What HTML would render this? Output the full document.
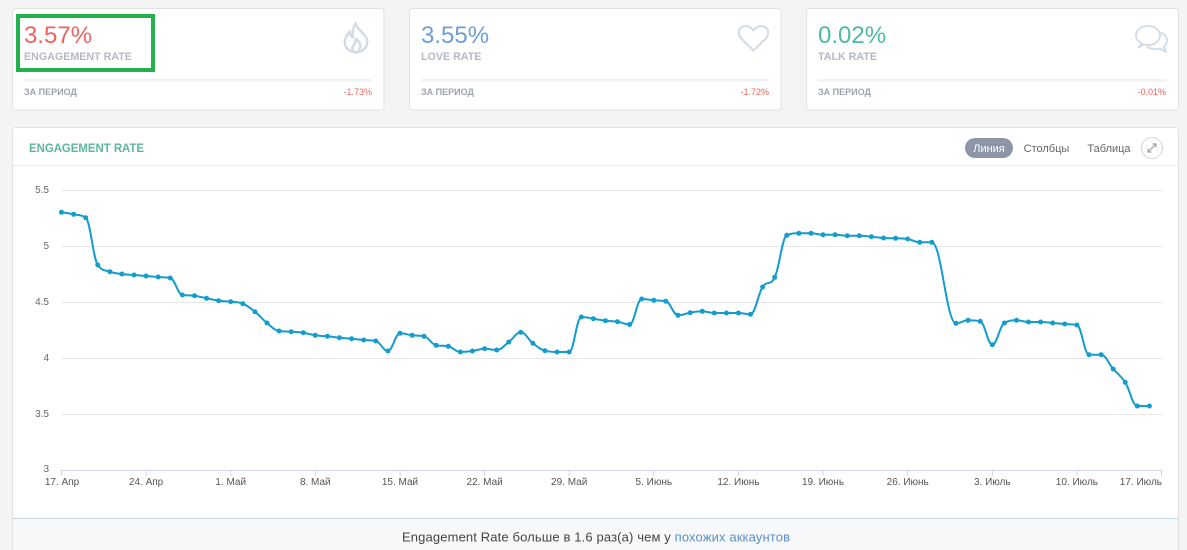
<!DOCTYPE html>
<html><head><meta charset="utf-8">
<style>
html,body{margin:0;padding:0;background:#f4f4f4;}
body{width:1187px;height:550px;overflow:hidden;font-family:"Liberation Sans","DejaVu Sans",sans-serif;}
svg{position:absolute;left:0;top:0;display:block;}
svg text{font-family:"Liberation Sans","DejaVu Sans",sans-serif;}
</style></head>
<body>
<svg width="1187" height="550" viewBox="0 0 1187 550" xmlns="http://www.w3.org/2000/svg">
  <rect x="0" y="0" width="1187" height="550" fill="#f4f4f4"/>
  <!-- Top cards -->
  <rect x="12.5" y="8.5" width="371.5" height="101.5" rx="3" fill="#fff" stroke="#e1e1e1"/>
  <rect x="409.5" y="8.5" width="371.5" height="101.5" rx="3" fill="#fff" stroke="#e1e1e1"/>
  <rect x="806.5" y="8.5" width="372" height="101.5" rx="3" fill="#fff" stroke="#e1e1e1"/>

  <!-- card 1 -->
  <text x="24" y="43" font-size="24" fill="#f0625f">3.57%</text>
  <text x="24" y="60" font-size="10.7" font-weight="bold" fill="#b2bac4">ENGAGEMENT RATE</text>
  <rect x="24" y="79" width="348" height="2.5" fill="#f1f2f4"/>
  <text x="24" y="95" font-size="9" font-weight="bold" fill="#9ca4ae">ЗА ПЕРИОД</text>
  <text x="372" y="95" font-size="9" fill="#f0625f" text-anchor="end">-1.73%</text>
  <g transform="translate(342,22) scale(1.05)" fill="none" stroke="#d3dbe5" stroke-width="2.3" stroke-linejoin="round" stroke-linecap="round">
    <path d="M13 1 C14 7 21 10 23.5 16 C25.5 21.5 22 28.5 13 29 C5 28.5 1.5 22 3 16.5 C4 13 6 11 7 9 C7.5 12 9 14 10.5 14.5 C9.5 9.5 10.5 5 13 1 Z"/>
    <path d="M13 29 C9.5 28 9 24.5 11 22 C12.5 20 13.5 18.5 13 16 C16 18 18 21 17.5 24 C17 27 15 29 13 29"/>
  </g>
  <rect x="18" y="16" width="135" height="54" fill="none" stroke="#22b14c" stroke-width="4"/>

  <!-- card 2 -->
  <text x="421" y="43" font-size="24" fill="#6d9fd6">3.55%</text>
  <text x="421" y="60" font-size="10.7" font-weight="bold" fill="#b2bac4">LOVE RATE</text>
  <rect x="421" y="79" width="348" height="2.5" fill="#f1f2f4"/>
  <text x="421" y="95" font-size="9" font-weight="bold" fill="#9ca4ae">ЗА ПЕРИОД</text>
  <text x="769" y="95" font-size="9" fill="#f0625f" text-anchor="end">-1.72%</text>
  <g transform="translate(737,24)" fill="none" stroke="#d5dde6" stroke-width="2.2" stroke-linejoin="round">
    <path d="M16.5 26.5 L4.5 14.8 C1 11.2 1 5.8 4.5 3.3 C8 0.8 13 1.8 16.5 6.5 C20 1.8 25 0.8 28.5 3.3 C32 5.8 32 11.2 28.5 14.8 Z"/>
  </g>

  <!-- card 3 -->
  <text x="818" y="43" font-size="24" fill="#4dbba4">0.02%</text>
  <text x="818" y="60" font-size="10.7" font-weight="bold" fill="#b2bac4">TALK RATE</text>
  <rect x="818" y="79" width="348" height="2.5" fill="#f1f2f4"/>
  <text x="818" y="95" font-size="9" font-weight="bold" fill="#9ca4ae">ЗА ПЕРИОД</text>
  <text x="1166" y="95" font-size="9" fill="#f0625f" text-anchor="end">-0.01%</text>
  <g transform="translate(1135,25)" fill="none" stroke="#d5dde6" stroke-width="2" stroke-linejoin="round" stroke-linecap="round">
    <path d="M7 18.5 C3 16.5 1 13.5 1 10.5 C1 5 6.5 1 13 1 C19.5 1 25 5 25 10.5 C25 16 19.5 20 13 20 C11.5 20 10 19.8 8.8 19.4 L3.5 22.5 Z"/>
    <path d="M26.5 8 C30 9.5 32 12.5 32 15.5 C32 18 30.8 20 29 21.5 L31 27 L25 23.5 C23.5 24 22 24.2 20 24.2 C17 24.2 14.5 23.3 12.5 22"/>
  </g>

  <!-- chart card -->
  <rect x="12.5" y="127.5" width="1166" height="440" rx="3" fill="#fff" stroke="#e1e1e1"/>
  <line x1="13" y1="165.5" x2="1178" y2="165.5" stroke="#ebebeb"/>
  <text x="29" y="152" font-size="12" font-weight="bold" fill="#5db6a0" textLength="115" lengthAdjust="spacingAndGlyphs">ENGAGEMENT RATE</text>
  <rect x="965" y="138" width="48" height="20" rx="10" fill="#8c96a7"/>
  <text x="989" y="152" font-size="11" fill="#fff" text-anchor="middle">Линия</text>
  <text x="1046.5" y="152" font-size="11" fill="#666" text-anchor="middle">Столбцы</text>
  <text x="1109" y="152" font-size="11" fill="#666" text-anchor="middle">Таблица</text>
  <circle cx="1152" cy="148" r="10.5" fill="#fff" stroke="#d2d2d2"/>
  <g stroke="#a0a0a0" stroke-width="1.2" fill="none">
    <line x1="1148" y1="152" x2="1156" y2="144"/>
    <polyline points="1152.5,144 1156,144 1156,147.5"/>
    <polyline points="1148,148.5 1148,152 1151.5,152"/>
  </g>

  <!-- grid -->
  <g stroke="#e6e6e6" stroke-width="1">
    <line x1="61.5" y1="190.5" x2="1162" y2="190.5"/>
    <line x1="61.5" y1="246.5" x2="1162" y2="246.5"/>
    <line x1="61.5" y1="302.5" x2="1162" y2="302.5"/>
    <line x1="61.5" y1="358.5" x2="1162" y2="358.5"/>
    <line x1="61.5" y1="414.5" x2="1162" y2="414.5"/>
  </g>
  <g font-size="10" fill="#666" text-anchor="end">
    <text x="49" y="193">5.5</text>
    <text x="49" y="249">5</text>
    <text x="49" y="305">4.5</text>
    <text x="49" y="361">4</text>
    <text x="49" y="417">3.5</text>
    <text x="49" y="472">3</text>
  </g>
  <line x1="61.5" y1="470.5" x2="1162" y2="470.5" stroke="#ccd6eb"/>
  <g stroke="#ccd6eb">
    <line x1="61.5" y1="470" x2="61.5" y2="476"/>
    <line x1="146.1" y1="470" x2="146.1" y2="476"/>
    <line x1="230.7" y1="470" x2="230.7" y2="476"/>
    <line x1="315.3" y1="470" x2="315.3" y2="476"/>
    <line x1="400" y1="470" x2="400" y2="476"/>
    <line x1="484.6" y1="470" x2="484.6" y2="476"/>
    <line x1="569.2" y1="470" x2="569.2" y2="476"/>
    <line x1="653.8" y1="470" x2="653.8" y2="476"/>
    <line x1="738.4" y1="470" x2="738.4" y2="476"/>
    <line x1="823" y1="470" x2="823" y2="476"/>
    <line x1="907.7" y1="470" x2="907.7" y2="476"/>
    <line x1="992.3" y1="470" x2="992.3" y2="476"/>
    <line x1="1076.9" y1="470" x2="1076.9" y2="476"/>
    <line x1="1161.5" y1="470" x2="1161.5" y2="476"/>
  </g>
  <g font-size="10" fill="#555" text-anchor="middle">
    <text x="62" y="485">17. Апр</text>
    <text x="146.1" y="485">24. Апр</text>
    <text x="230.7" y="485">1. Май</text>
    <text x="315.3" y="485">8. Май</text>
    <text x="400" y="485">15. Май</text>
    <text x="484.6" y="485">22. Май</text>
    <text x="569.2" y="485">29. Май</text>
    <text x="653.8" y="485">5. Июнь</text>
    <text x="738.4" y="485">12. Июнь</text>
    <text x="823" y="485">19. Июнь</text>
    <text x="907.7" y="485">26. Июнь</text>
    <text x="992.3" y="485">3. Июль</text>
    <text x="1076.9" y="485">10. Июль</text>
    <text x="1162" y="485" text-anchor="end">17. Июль</text>
  </g>

  <!-- series -->
  <polyline id="fallback" fill="none" stroke="#149ccd" stroke-width="2" stroke-linejoin="round"
    points="61.5,212.3 73.6,214.3 85.7,217.7 97.8,265 109.9,271.7 121.9,274 134,275 146.1,276 158.2,277 170.3,278 182.4,295 194.5,295.7 206.6,298.3 218.6,300.7 230.7,301.7 242.8,303.7 254.9,311.7 267,323 279.1,331 291.2,331.7 303.3,332.7 315.3,335.3 327.4,336.3 339.5,337.7 351.6,338.7 363.7,340 375.8,341 387.9,351 400,333.3 412.1,335.3 424.1,336.3 436.2,345.3 448.3,346.3 460.4,352 472.5,351 484.6,348.7 496.7,350 508.8,342 520.8,332.3 532.9,343.3 545,350.7 557.1,352 569.2,352 581.3,317 593.4,318.7 605.5,320.7 617.5,321.7 629.6,324.5 641.7,299 653.8,300.3 665.9,301.3 678,315.3 690.1,312.7 702.2,311.3 714.3,313 726.4,313 738.4,313 750.5,314.3 762.6,287 774.7,277.3 786.8,235.3 798.9,233.3 811,233.3 823,234.7 835.1,234.7 847.2,235.7 859.3,235.7 871.4,236.7 883.5,238 895.6,238.3 907.7,239 919.7,242.3 931.8,242.3 956,323.3 968.1,320.3 980.2,321.3 992.3,344.7 1004.4,323 1016.5,320.3 1028.5,322 1040.6,322 1052.7,323 1064.8,324 1076.9,325 1089,354.7 1101.1,354.7 1113.2,369 1125.2,382.3 1137.3,406 1149.4,406"/>
  <path id="spline" fill="none" stroke="#149ccd" stroke-width="2" stroke-linejoin="round" d=""/>
  <g id="markers" fill="#149ccd"></g>

  <!-- footer -->
  <rect x="13" y="518" width="1165" height="32" fill="#f6f8fa"/>
  <line x1="13" y1="518.5" x2="1178" y2="518.5" stroke="#c8d5e2"/>
  <text x="402" y="541.5" font-size="13" fill="#444" textLength="388" lengthAdjust="spacing">Engagement Rate больше в 1.6 раз(а) чем у <tspan fill="#5b8fc7">похожих аккаунтов</tspan></text>
</svg>
<script>
(function(){
  var fb=document.getElementById('fallback');
  var raw=fb.getAttribute('points').trim().split(/\s+/);
  var pts=raw.map(function(s){var a=s.split(',');return [parseFloat(a[0]),parseFloat(a[1])];});
  var n=pts.length,sm=1.5,den=2.5,c=[];
  for(var i=0;i<n;i++){
    var px=pts[i][0],py=pts[i][1];
    if(i===0||i===n-1){c.push([px,py,px,py]);continue;}
    var lx0=pts[i-1][0],ly0=pts[i-1][1],nx=pts[i+1][0],ny=pts[i+1][1];
    var lcx=(sm*px+lx0)/den,lcy=(sm*py+ly0)/den,rcx=(sm*px+nx)/den,rcy=(sm*py+ny)/den;
    var corr=0;
    if(rcx!==lcx){corr=((rcy-lcy)*(rcx-px))/(rcx-lcx)+py-rcy;}
    lcy+=corr;rcy+=corr;
    if(lcy>ly0&&lcy>py){lcy=Math.max(ly0,py);rcy=2*py-lcy;}
    else if(lcy<ly0&&lcy<py){lcy=Math.min(ly0,py);rcy=2*py-lcy;}
    if(rcy>ny&&rcy>py){rcy=Math.max(ny,py);lcy=2*py-rcy;}
    else if(rcy<ny&&rcy<py){rcy=Math.min(ny,py);lcy=2*py-rcy;}
    c.push([lcx,lcy,rcx,rcy]);
  }
  var d='M'+pts[0][0]+' '+pts[0][1];
  for(var j=1;j<n;j++){
    d+=' C'+c[j-1][2].toFixed(2)+' '+c[j-1][3].toFixed(2)+' '+c[j][0].toFixed(2)+' '+c[j][1].toFixed(2)+' '+pts[j][0]+' '+pts[j][1];
  }
  document.getElementById('spline').setAttribute('d',d);
  fb.parentNode.removeChild(fb);
  var g=document.getElementById('markers'),ns='http://www.w3.org/2000/svg';
  for(var k=0;k<n;k++){
    var ci=document.createElementNS(ns,'circle');
    ci.setAttribute('cx',pts[k][0]);ci.setAttribute('cy',pts[k][1]);ci.setAttribute('r','2.5');
    g.appendChild(ci);
  }
})();
</script>
</body></html>
